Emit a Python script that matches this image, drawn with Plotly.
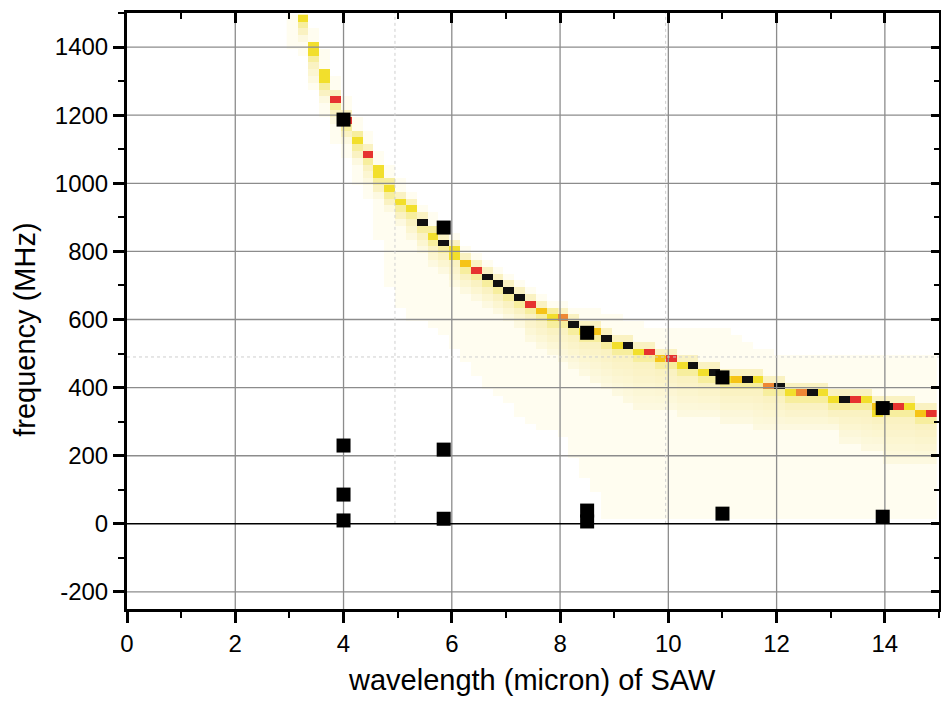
import plotly.graph_objects as go

# ---------------- data ----------------
# heat-map columns (wavelength, micron) and rows (frequency, MHz)
lam_cols = [3.05, 3.25, 3.45, 3.65, 3.85, 4.05, 4.25, 4.45, 4.65, 4.85, 5.05,
            5.25, 5.45, 5.65, 5.85, 6.05, 6.25, 6.45, 6.65, 6.85, 7.05,
            7.25, 7.45, 7.65, 7.85, 8.05, 8.25, 8.45, 8.65, 8.85, 9.05,
            9.25, 9.45, 9.65, 9.85, 10.05, 10.25, 10.45, 10.65, 10.85, 11.05,
            11.25, 11.45, 11.65, 11.85, 12.05, 12.25, 12.45, 12.65, 12.85, 13.05,
            13.25, 13.45, 13.65, 13.85, 14.05, 14.25, 14.45, 14.65, 14.85]
freq_rows = list(range(5, 1500, 20))

# frequency of the strongest cell in every column
peak_f = [None, 1485, 1385, 1305, 1245, 1185, 1125, 1085, 1025, 985, 945,
          925, 885, 845, 825, 805, 765, 745, 725, 705, 685,
          665, 645, 625, 605, 605, 585, 565, 565, 545, 525,
          525, 505, 505, 485, 485, 465, 465, 445, 445, 425,
          425, 425, 425, 405, 405, 385, 385, 385, 385, 365,
          365, 365, 365, 345, 345, 345, 345, 325, 325]
# colour level of that cell: 5 yellow, 6 gold, 7 orange, 8 red, 9 black
peak_lvl = [0, 5, 5, 5, 8, 8, 5, 8, 5, 5, 5,
            5, 9, 5, 9, 5, 6, 8, 9, 9, 9,
            9, 8, 6, 5, 7, 9, 5, 6, 9, 5,
            9, 5, 8, 6, 8, 5, 9, 5, 9, 5,
            6, 9, 5, 7, 9, 5, 7, 9, 5, 5,
            9, 8, 5, 6, 9, 8, 5, 6, 8]
# level of the cell just above / just below the peak cell
above_lvl = [0, 0, 5, 5, 3, 3, 4, 3, 5, 4, 3,
             3, 3, 4, 3, 3, 3, 3, 3, 3, 3,
             3, 3, 3, 4, 3, 3, 3, 3, 3, 3,
             3, 3, 3, 3, 3, 3, 3, 3, 3, 3,
             3, 3, 3, 3, 3, 3, 3, 3, 3, 3,
             3, 3, 3, 3, 3, 3, 3, 3, 3]
below_lvl = [0, 4, 4, 4, 4, 4, 4, 4, 4, 4, 4,
             4, 4, 4, 4, 5, 4, 4, 4, 4, 4,
             4, 4, 4, 4, 4, 4, 4, 4, 4, 4,
             4, 4, 4, 4, 4, 4, 4, 4, 4, 4,
             4, 4, 4, 4, 4, 4, 4, 4, 4, 4,
             4, 4, 4, 5, 4, 4, 4, 4, 4]
# lowest frequency of the pale-yellow band under the curve
pale_low = [None, 1425, 1305, 1245, 1185, 1125, 1065, 1005, 965, 925, 885,
            845, 805, 765, 745, 705, 685, 665, 645, 625, 605,
            585, 545, 525, 505, 485, 465, 445, 425, 405, 385,
            365, 345, 345, 345, 345, 325, 325, 325, 325, 305,
            305, 305, 285, 285, 285, 285, 285, 285, 285, 285,
            245, 245, 225, 225, 185, 185, 185, 185, 185]
# extent of the very faint cream region
faint_low = [1405, 1385, 1285, 1205, 1125, 1085, 1005, 965, 845, 705, 645,
             605, 605, 585, 565, 525, 485, 445, 405, 385, 365,
             325, 305, 285, 285, 265, 205, 145, 105, 25, 25,
             25, 25, 25, 25, 25, 25, 25, 25, 25, 25,
             25, 25, 25, 25, 25, 25, 25, 25, 25, 25,
             25, 25, 25, 25, 25, 25, 25, 25, 25]
faint_high = [1485, 1485, 1445, 1385, 1305, 1245, 1185, 1145, 1085, 1045, 1005,
              965, 925, 905, 865, 845, 805, 785, 765, 745, 725,
              705, 685, 665, 645, 645, 625, 625, 625, 605, 605,
              585, 585, 565, 565, 565, 565, 565, 565, 565, 565,
              545, 525, 505, 505, 485, 485, 485, 485, 485, 485,
              485, 485, 485, 485, 485, 485, 485, 485, 485]

# measured points (black squares)
meas_lam = [4.0, 4.0, 4.0, 4.0, 5.85, 5.85, 5.85, 8.5, 8.5, 8.5, 11.0, 11.0, 13.96, 13.96]
meas_f = [1187, 230, 86, 10, 870, 218, 15, 561, 39, 7, 430, 30, 340, 21]

# axes / ticks
x_range = [0, 15]
y_range = [-250, 1500]
x_tick_vals = [0, 2, 4, 6, 8, 10, 12, 14]
x_tick_labels = ["0", "2", "4", "6", "8", "10", "12", "14"]
y_tick_vals = [-200, 0, 200, 400, 600, 800, 1000, 1200, 1400]
y_tick_labels = ["-200", "0", "200", "400", "600", "800", "1000", "1200", "1400"]
x_grid = [2, 4, 6, 8, 10, 12, 14]
y_grid = [-200, 200, 400, 600, 800, 1000, 1200, 1400]
y_zero = [0]
overlay_x = [4.95, 9.95]
overlay_y = [490]

x_title = "wavelength (micron) of SAW"
y_title = "frequency (MHz)"

# ---------------- build heat-map table ----------------
z = [[None] * len(lam_cols) for _ in freq_rows]
for j in range(len(lam_cols)):
    for i, f in enumerate(freq_rows):
        v = None
        if faint_low[j] <= f <= faint_high[j]:
            v = 1
        p = peak_f[j]
        if p is not None:
            top_pale = p - 40
            if pale_low[j] <= f <= top_pale:
                span = max(top_pale - pale_low[j], 1)
                t = (top_pale - f) / span
                v = 3 - t
            if f == p + 20 and above_lvl[j]:
                v = above_lvl[j]
            if f == p - 20:
                v = below_lvl[j]
            if f == p:
                v = peak_lvl[j]
        z[i][j] = v

cs = [
    [0.0, "#ffffff"],
    [1 / 9, "#fffdf0"],
    [1.6 / 9, "#fefbe8"],
    [2 / 9, "#fdf9e0"],
    [3 / 9, "#faf2c2"],
    [3.5 / 9, "#faf2c2"],
    [3.5 / 9, "#f7ee9e"],
    [4.5 / 9, "#f7ee9e"],
    [4.5 / 9, "#f2df2c"],
    [5.5 / 9, "#f2df2c"],
    [5.5 / 9, "#f6c416"],
    [6.5 / 9, "#f6c416"],
    [6.5 / 9, "#ee8734"],
    [7.5 / 9, "#ee8734"],
    [7.5 / 9, "#e6332f"],
    [8.5 / 9, "#e6332f"],
    [8.5 / 9, "#111111"],
    [1.0, "#111111"],
]

fig = go.Figure()
fig.add_trace(go.Heatmap(
    x=lam_cols, y=freq_rows, z=z, zmin=0, zmax=9, colorscale=cs,
    showscale=False, zsmooth=False, hoverinfo="skip",
    xaxis="x", yaxis="y"))

# grid lines (drawn above the heat map)
gx, gy = [], []
for xv in x_grid:
    gx += [xv, xv, None]
    gy += [y_range[0], y_range[1], None]
for yv in y_grid:
    gx += [x_range[0], x_range[1], None]
    gy += [yv, yv, None]
fig.add_trace(go.Scatter(x=gx, y=gy, mode="lines",
                         line=dict(color="#8c8c8c", width=1.3),
                         hoverinfo="skip", showlegend=False,
                         xaxis="x2", yaxis="y2"))

ox, oy = [], []
for xv in overlay_x:
    ox += [xv, xv, None]
    oy += [0, y_range[1], None]
for yv in overlay_y:
    ox += [x_range[0], x_range[1], None]
    oy += [yv, yv, None]
fig.add_trace(go.Scatter(x=ox, y=oy, mode="lines",
                         line=dict(color="#cfcfcf", width=1, dash="dot"),
                         hoverinfo="skip", showlegend=False,
                         xaxis="x2", yaxis="y2"))

zx, zy = [], []
for yv in y_zero:
    zx += [x_range[0], x_range[1], None]
    zy += [yv, yv, None]
fig.add_trace(go.Scatter(x=zx, y=zy, mode="lines",
                         line=dict(color="#000000", width=1.5),
                         hoverinfo="skip", showlegend=False,
                         xaxis="x2", yaxis="y2"))

fig.add_trace(go.Scatter(x=meas_lam, y=meas_f, mode="markers",
                         marker=dict(symbol="square", size=14, color="#000000",
                                     line=dict(width=0)),
                         showlegend=False, xaxis="x2", yaxis="y2"))

font_family = "Liberation Sans, Arial, Helvetica, sans-serif"
tickfont = dict(family=font_family, size=24, color="#000000")
titlefont = dict(family=font_family, size=29, color="#000000")

fig.update_layout(
    width=941, height=702,
    margin=dict(l=127, r=2, t=13, b=93, pad=0),
    paper_bgcolor="#ffffff", plot_bgcolor="#ffffff",
    font=dict(family=font_family, color="#000000"),
    showlegend=False,
    xaxis=dict(range=x_range, tickmode="array", tickvals=x_tick_vals,
               ticktext=x_tick_labels, ticks="outside", ticklen=11,
               tickwidth=2.5, tickcolor="#000000",
               minor=dict(dtick=1, ticks="outside", ticklen=6, tickwidth=2,
                          tickcolor="#000000", showgrid=False),
               showline=True, linewidth=3, linecolor="#000000",
               showgrid=False, zeroline=False, tickfont=tickfont,
               automargin=False, fixedrange=True),
    yaxis=dict(range=y_range, tickmode="array", tickvals=y_tick_vals,
               ticktext=y_tick_labels, ticks="outside", ticklen=11,
               tickwidth=2.5, tickcolor="#000000",
               minor=dict(dtick=100, ticks="outside", ticklen=6, tickwidth=2,
                          tickcolor="#000000", showgrid=False),
               showline=True, linewidth=3, linecolor="#000000",
               showgrid=False, zeroline=False, tickfont=tickfont,
               automargin=False, fixedrange=True),
    xaxis2=dict(range=x_range, overlaying="x", side="top", anchor="y2",
                tick0=0, dtick=2, ticks="inside", ticklen=10, tickwidth=2.5,
                tickcolor="#000000",
                minor=dict(dtick=1, ticks="inside", ticklen=6, tickwidth=2,
                           tickcolor="#000000", showgrid=False),
                showticklabels=False, showline=True, linewidth=3,
                linecolor="#000000", showgrid=False, zeroline=False,
                automargin=False, fixedrange=True),
    yaxis2=dict(range=y_range, overlaying="y", side="right", anchor="x2",
                tick0=0, dtick=200, ticks="inside", ticklen=8, tickwidth=2.5,
                tickcolor="#000000",
                minor=dict(dtick=100, ticks="inside", ticklen=5, tickwidth=2,
                           tickcolor="#000000", showgrid=False),
                showticklabels=False, showline=True, linewidth=3,
                linecolor="#000000", showgrid=False, zeroline=False,
                automargin=False, fixedrange=True),
    annotations=[
        dict(text=x_title, xref="paper", yref="paper", x=0.4988, y=-0.119,
             xanchor="center", yanchor="middle", showarrow=False, font=titlefont),
        dict(text=y_title, xref="paper", yref="paper", x=-0.1256, y=0.4685,
             xanchor="center", yanchor="middle", textangle=-90,
             showarrow=False, font=titlefont),
    ],
)

fig.write_html("out.html",
               config={"displayModeBar": False},
               post_script="document.body.style.margin='0px';"
                           "document.body.style.overflow='hidden';")
